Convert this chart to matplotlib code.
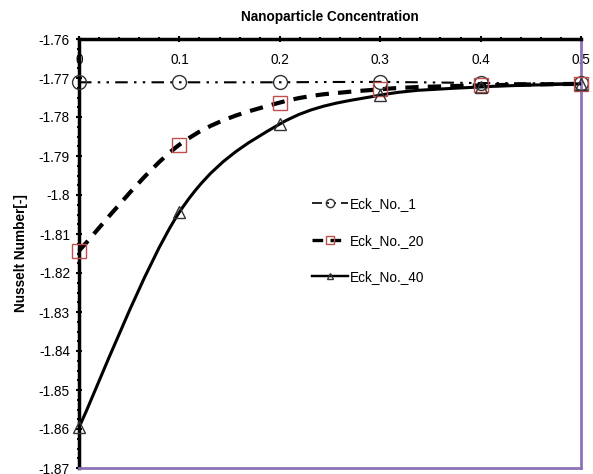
import numpy as np
import matplotlib.pyplot as plt
from matplotlib.path import Path
from matplotlib.patches import PathPatch
from matplotlib.lines import Line2D
from matplotlib.ticker import MultipleLocator, FormatStrFormatter

plt.rcParams['font.family'] = ['Liberation Sans', 'DejaVu Sans']

# ============================================
# Data
# ============================================
concentration = [0.0, 0.1, 0.2, 0.3, 0.4, 0.5]
eck_1 = [-1.7711, -1.7711, -1.7711, -1.7710, -1.7713, -1.7714]
eck_20 = [-1.8143, -1.7871, -1.7763, -1.7729, -1.7719, -1.7715]
eck_40 = [-1.8596, -1.8044, -1.7818, -1.7744, -1.7723, -1.7715]

labels = ["Eck_No._1", "Eck_No._20", "Eck_No._40"]
red = "#C0504D"
purple = "#8E72B8"


def smooth_path(x, y):
    # Excel style smoothed line: cubic bezier between the data points
    pts = np.column_stack([x, y])
    n = len(pts)
    verts = [pts[0]]
    codes = [Path.MOVETO]
    for i in range(n - 1):
        p0 = pts[max(i - 1, 0)]
        p1 = pts[i]
        p2 = pts[i + 1]
        p3 = pts[min(i + 2, n - 1)]
        c1 = p1 + (p2 - p0) / 6
        c2 = p2 - (p3 - p1) / 6
        verts += [c1, c2, p2]
        codes += [Path.CURVE4] * 3
    return Path(verts, codes)


fig = plt.figure(figsize=(5.93, 4.74), dpi=100)
ax = fig.add_axes([79 / 593, 6 / 474, 502 / 593, 429 / 474])

styles = [
    dict(ls=(0, (6, 3, 1.2, 3, 1.2, 3)), lw=1.5, marker="o", mec="#333333", ms=10),
    dict(ls=(0, (3.2, 2.2)), lw=3, marker="s", mec=red, ms=10),
    dict(ls="-", lw=2.2, marker="^", mec="#333333", ms=8),
]

for series, st in zip([eck_1, eck_20, eck_40], styles):
    patch = PathPatch(smooth_path(concentration, series), fill=False,
                      edgecolor="black", linewidth=st["lw"],
                      linestyle=st["ls"], clip_on=False, zorder=3)
    ax.add_patch(patch)
    ax.plot(concentration, series, ls="none", marker=st["marker"],
            ms=st["ms"], mfc="none", mec=st["mec"], mew=1.0,
            clip_on=False, zorder=4)

handles = [
    Line2D([], [], color="black", ls=st["ls"], lw=st["lw"] * 0.8,
           marker=st["marker"], ms=st["ms"] * 0.6, mfc="none",
           mec=st["mec"], mew=1.0)
    for st in styles
]
ax.legend(handles, labels, loc="center left", bbox_to_anchor=(0.44, 0.53),
          frameon=False, fontsize=9.8, handlelength=2.6, handletextpad=0.2,
          labelspacing=1.65, numpoints=1)

ax.set_xlim(0, 0.5)
ax.set_ylim(-1.87, -1.76)

ax.xaxis.set_major_locator(MultipleLocator(0.1))
ax.xaxis.set_minor_locator(MultipleLocator(0.02))
ax.yaxis.set_major_locator(MultipleLocator(0.01))
ax.yaxis.set_minor_locator(MultipleLocator(0.0025))
ax.yaxis.set_major_formatter(FormatStrFormatter("%g"))
ax.xaxis.set_major_formatter(FormatStrFormatter("%g"))

ax.tick_params(axis="x", which="both", top=True, bottom=False,
               labeltop=True, labelbottom=False, direction="inout",
               labelsize=9.8, pad=-23)
ax.tick_params(axis="x", which="major", length=5, width=1.5)
ax.tick_params(axis="x", which="minor", length=3, width=1.5)
ax.tick_params(axis="y", which="both", right=False, direction="inout",
               labelsize=9.8, pad=4)
ax.tick_params(axis="y", which="major", length=5, width=1.5)
ax.tick_params(axis="y", which="minor", length=3, width=1.5)

ax.spines["left"].set_linewidth(2.5)
ax.spines["top"].set_linewidth(2.5)
ax.spines["right"].set_color(purple)
ax.spines["bottom"].set_color(purple)
ax.spines["right"].set_linewidth(2)
ax.spines["bottom"].set_linewidth(2)

fig.text(330 / 593, 1 - 17 / 474, "Nanoparticle Concentration",
         ha="center", va="center", fontsize=9.8, fontweight="bold")
ax.set_ylabel("Nusselt Number[-]", fontsize=9.8, fontweight="bold", labelpad=8)

fig.savefig("out.png", dpi=100)
